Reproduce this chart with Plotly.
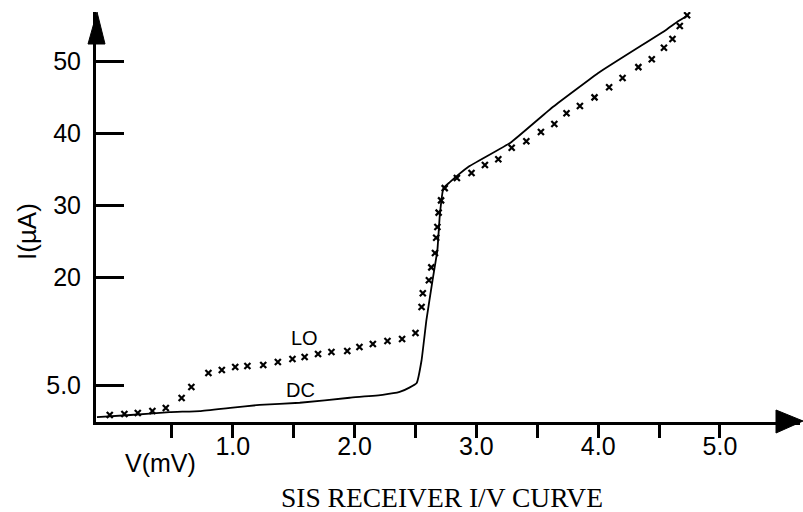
import plotly.graph_objects as go

# ---------------- data ----------------
dc_v = [-0.115, 0.16, 0.48, 0.73, 0.98, 1.22, 1.55, 1.96, 2.23, 2.37, 2.45, 2.51,
        2.55, 2.59, 2.64, 2.68, 2.70, 2.73, 2.78, 2.93, 3.28, 3.63, 4.01, 4.56, 4.65, 4.74]
dc_i = [0.62, 0.9, 1.3, 1.45, 1.9, 2.3, 2.6, 3.3, 3.7, 4.1, 4.7, 5.35,
        8.5, 14.1, 19.6, 23.8, 28.7, 32.4, 33.2, 35.3, 38.7, 43.7, 48.5, 54.4, 55.5, 56.4]

lo_v = [-0.01, 0.11, 0.22, 0.34, 0.45, 0.58, 0.66, 0.80, 0.91, 1.02, 1.12, 1.25, 1.37,
        1.49, 1.59, 1.70, 1.81, 1.94, 2.04, 2.15, 2.27, 2.39, 2.50, 2.55, 2.56, 2.61,
        2.63, 2.66, 2.67, 2.68, 2.69, 2.71, 2.74, 2.84, 2.96, 3.07, 3.18, 3.29, 3.41,
        3.53, 3.64, 3.74, 3.85, 3.97, 4.09, 4.20, 4.33, 4.44, 4.54, 4.61, 4.67, 4.73]
lo_i = [0.90, 1.04, 1.18, 1.46, 1.88, 3.27, 4.79, 6.74, 7.15, 7.57, 7.71, 7.85, 8.26,
        8.68, 8.95, 9.37, 9.65, 9.79, 10.34, 10.76, 11.18, 11.45, 12.29, 15.9, 17.8, 19.6,
        21.4, 23.4, 25.5, 27.0, 29.0, 30.7, 32.4, 33.8, 34.5, 35.6, 36.4, 38.0, 38.9,
        40.2, 41.3, 42.8, 43.8, 45.0, 46.4, 47.7, 49.2, 50.3, 51.9, 53.1, 54.9, 56.4]

x_tickvals = [0.5, 1.0, 1.5, 2.0, 2.5, 3.0, 3.5, 4.0, 4.5, 5.0]
x_ticktext = ["", "1.0", "", "2.0", "", "3.0", "", "4.0", "", "5.0"]
y_tickvals = [5, 20, 30, 40, 50]
y_ticktext = ["5.0", "20", "30", "40", "50"]

# ---------------- layout geometry ----------------
W, H = 803, 512
ML, MR, MT, MB = 96, 3, 12, 90
PW, PH = W - ML - MR, H - MT - MB


def px(xp, yp):
    """pixel -> paper coordinates (for decorations only)"""
    return (xp - ML) / PW, (H - MB - yp) / PH


SANS = "Liberation Sans, Arial, sans-serif"
SERIF = "Liberation Serif, Times New Roman, serif"

fig = go.Figure()
fig.add_trace(go.Scatter(x=dc_v, y=dc_i, mode="lines", name="DC",
                         line=dict(color="black", width=1.8, shape="spline", smoothing=0.3)))
fig.add_trace(go.Scatter(x=lo_v, y=lo_i, mode="markers", name="LO",
                         marker=dict(symbol="x-thin", size=6, color="black",
                                     line=dict(color="black", width=2.2))))

# arrowheads
tip, b1, b2 = px(97, 12), px(88, 44), px(105, 44)
fig.add_shape(type="path", xref="paper", yref="paper",
              path=f"M {tip[0]} {tip[1]} L {b1[0]} {b1[1]} L {b2[0]} {b2[1]} Z",
              fillcolor="black", line=dict(color="black", width=1))
tip, b1, b2 = px(803, 421), px(776, 410), px(776, 433)
fig.add_shape(type="path", xref="paper", yref="paper",
              path=f"M {tip[0]} {tip[1]} L {b1[0]} {b1[1]} L {b2[0]} {b2[1]} Z",
              fillcolor="black", line=dict(color="black", width=1))

# labels
ax_, ay_ = px(160, 463)
fig.add_annotation(text="V(mV)", x=ax_, y=ay_, xref="paper", yref="paper", showarrow=False,
                   xanchor="center", yanchor="middle", font=dict(family=SANS, size=25, color="black"))
ax_, ay_ = px(27, 232)
fig.add_annotation(text="I(µA)", x=ax_, y=ay_, xref="paper", yref="paper", showarrow=False,
                   textangle=-90, xanchor="center", yanchor="middle",
                   font=dict(family=SANS, size=26, color="black"))
ax_, ay_ = px(442, 497)
fig.add_annotation(text="SIS RECEIVER I/V CURVE", x=ax_, y=ay_, xref="paper", yref="paper",
                   showarrow=False, xanchor="center", yanchor="middle",
                   font=dict(family=SERIF, size=27.5, color="black"))
fig.add_annotation(text="LO", x=1.59, y=11.6, showarrow=False,
                   font=dict(family=SANS, size=20, color="black"))
fig.add_annotation(text="DC", x=1.56, y=4.4, showarrow=False,
                   font=dict(family=SANS, size=20, color="black"))

fig.update_layout(
    width=W, height=H, margin=dict(l=ML, r=MR, t=MT, b=MB),
    paper_bgcolor="white", plot_bgcolor="white", showlegend=False,
    xaxis=dict(range=[-0.123, 5.657], showgrid=False, zeroline=False,
               showline=True, linecolor="black", linewidth=3,
               ticks="outside", ticklen=13, tickwidth=3, tickcolor="black",
               tickvals=x_tickvals, ticktext=x_ticktext, ticklabelstandoff=-13,
               tickfont=dict(family=SANS, size=25, color="black")),
    yaxis=dict(range=[-0.07, 56.85], showgrid=False, zeroline=False,
               showline=True, linecolor="black", linewidth=3,
               ticks="inside", ticklen=28, tickwidth=3, tickcolor="black",
               tickvals=y_tickvals, ticktext=y_ticktext, ticklabelstandoff=7,
               tickfont=dict(family=SANS, size=25, color="black")),
)

fig.write_html("out.html")
